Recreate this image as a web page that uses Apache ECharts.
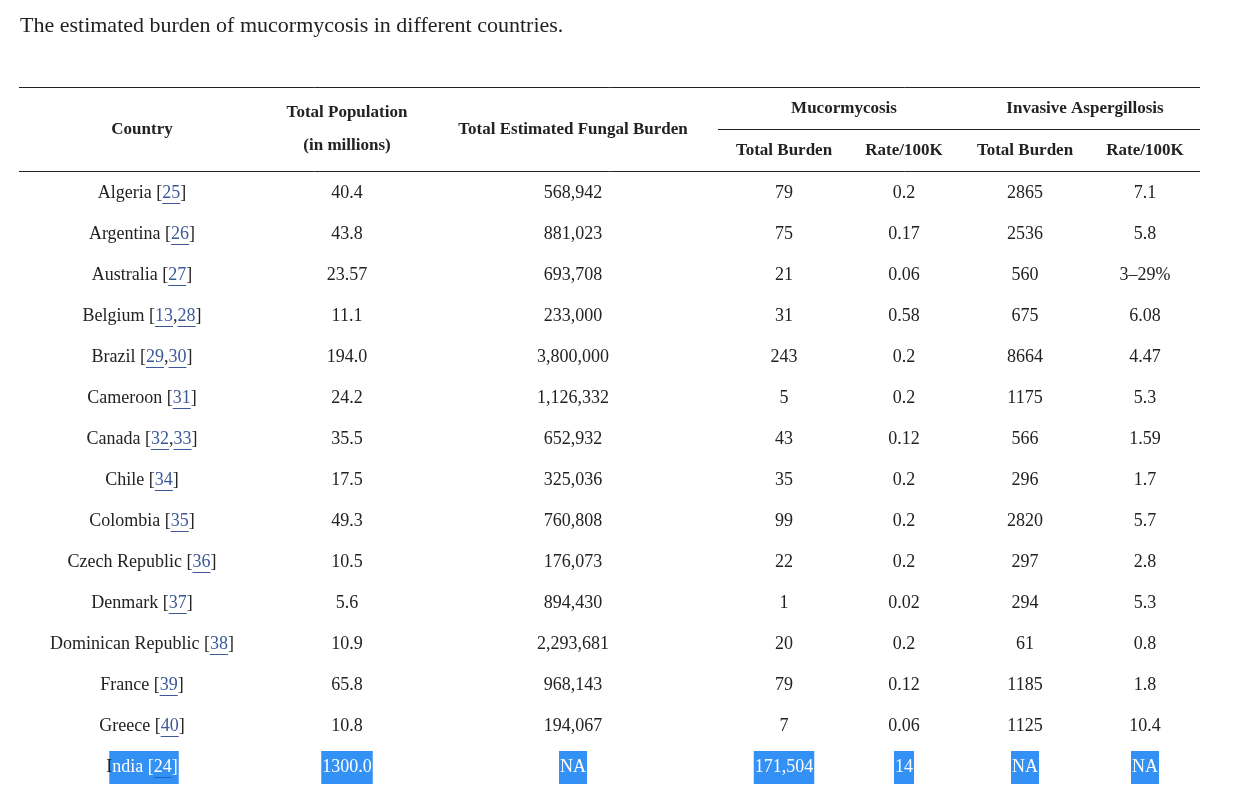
<!DOCTYPE html>
<html>
<head>
<meta charset="utf-8">
<title>Mucormycosis burden</title>
<script src="https://cdn.jsdelivr.net/npm/echarts@6/dist/echarts.min.js"></script>
<style>html,body{margin:0;background:#fff}#main{width:1254px;height:805px}</style>
</head>
<body>
<div id="main"></div>
<script>
var countries = ['Algeria', 'Argentina', 'Australia', 'Belgium', 'Brazil', 'Cameroon', 'Canada', 'Chile', 'Colombia', 'Czech Republic', 'Denmark', 'Dominican Republic', 'France', 'Greece', 'India'];
var refs = [['25'], ['26'], ['27'], ['13', '28'], ['29', '30'], ['31'], ['32', '33'], ['34'], ['35'], ['36'], ['37'], ['38'], ['39'], ['40'], ['24']];
var population = ['40.4', '43.8', '23.57', '11.1', '194.0', '24.2', '35.5', '17.5', '49.3', '10.5', '5.6', '10.9', '65.8', '10.8', '1300.0'];
var fungalBurden = ['568,942', '881,023', '693,708', '233,000', '3,800,000', '1,126,332', '652,932', '325,036', '760,808', '176,073', '894,430', '2,293,681', '968,143', '194,067', 'NA'];
var mucTotal = ['79', '75', '21', '31', '243', '5', '43', '35', '99', '22', '1', '20', '79', '7', '171,504'];
var mucRate = ['0.2', '0.17', '0.06', '0.58', '0.2', '0.2', '0.12', '0.2', '0.2', '0.2', '0.02', '0.2', '0.12', '0.06', '14'];
var iaTotal = ['2865', '2536', '560', '675', '8664', '1175', '566', '296', '2820', '297', '294', '61', '1185', '1125', 'NA'];
var iaRate = ['7.1', '5.8', '3–29%', '6.08', '4.47', '5.3', '1.59', '1.7', '5.7', '2.8', '5.3', '0.8', '1.8', '10.4', 'NA'];

var colX = [142, 347, 573, 784, 904, 1025, 1145];
var rowY0 = 193, rowStep = 41;
var bodyFont = '18px "Liberation Serif"';
var headFont = 'bold 17px "Liberation Serif"';
var linkColor = '#3b5998', selColor = '#3390f4';

var ctx = document.createElement('canvas').getContext('2d');
function tw(s, font) { ctx.font = font; return ctx.measureText(s).width; }

var g = [];
function txt(x, y, s, font, color, align) {
  g.push({ type: 'text', x: x, y: y, z: 10, style: { text: s, font: font, fill: color || '#222', align: align || 'center', verticalAlign: 'middle' } });
}
function line(x1, y1, x2, y2, c, w) {
  g.push({ type: 'line', z: 5, shape: { x1: x1, y1: y1, x2: x2, y2: y2 }, style: { stroke: c, lineWidth: w || 1 } });
}
function rect(x, y, w, h, c) {
  g.push({ type: 'rect', z: 1, shape: { x: x, y: y, width: w, height: h }, style: { fill: c } });
}

txt(20, 26, 'The estimated burden of mucormycosis in different countries.', '22px "Liberation Serif"', '#222', 'left');

line(19, 87.5, 1200, 87.5, '#222', 1);
line(718, 129.5, 1200, 129.5, '#222', 1);
line(19, 171.5, 1200, 171.5, '#222', 1);

txt(colX[0], 130, 'Country', headFont);
txt(colX[1], 113, 'Total Population', headFont);
txt(colX[1], 146, '(in millions)', headFont);
txt(colX[2], 130, 'Total Estimated Fungal Burden', headFont);
txt((colX[3] + colX[4]) / 2, 109, 'Mucormycosis', headFont);
txt((colX[5] + colX[6]) / 2, 109, 'Invasive Aspergillosis', headFont);
txt(colX[3], 151, 'Total Burden', headFont);
txt(colX[4], 151, 'Rate/100K', headFont);
txt(colX[5], 151, 'Total Burden', headFont);
txt(colX[6], 151, 'Rate/100K', headFont);

var cols = [population, fungalBurden, mucTotal, mucRate, iaTotal, iaRate];
countries.forEach(function (name, i) {
  var y = rowY0 + i * rowStep;
  var last = i === countries.length - 1;
  var fg = last ? '#fff' : '#222';
  // country cell with reference links
  var parts = [[name + ' [', 'plain']];
  refs[i].forEach(function (r, k) {
    if (k > 0) parts.push([',', 'plain']);
    parts.push([r, 'link']);
  });
  parts.push([']', 'plain']);
  var total = 0;
  parts.forEach(function (p) { total += tw(p[0], bodyFont); });
  var x = colX[0] - total / 2;
  if (last) {
    var iw = tw('I', bodyFont);
    rect(x + iw - 3, y - 16, total - iw + 4, 33, selColor);
  }
  parts.forEach(function (p, k) {
    var w = tw(p[0], bodyFont);
    if (last && k === 0) {
      var iw2 = tw('I', bodyFont);
      txt(x, y, 'I', bodyFont, '#222', 'left');
      txt(x + iw2, y, p[0].slice(1), bodyFont, '#fff', 'left');
    } else {
      txt(x, y, p[0], bodyFont, p[1] === 'link' && !last ? linkColor : fg, 'left');
    }
    if (p[1] === 'link') line(x, y + 10.5, x + w, y + 10.5, last ? '#1f5fc0' : linkColor, 1);
    x += w;
  });
  cols.forEach(function (arr, c) {
    var cx = colX[c + 1];
    if (last) {
      var w = tw(arr[i], bodyFont);
      rect(cx - w / 2 - 1, y - 16, w + 2, 33, selColor);
    }
    txt(cx, y, arr[i], bodyFont, fg);
  });
});

var chart = echarts.init(document.getElementById('main'));
chart.setOption({ animation: false, graphic: { elements: g } });
</script>
</body>
</html>
